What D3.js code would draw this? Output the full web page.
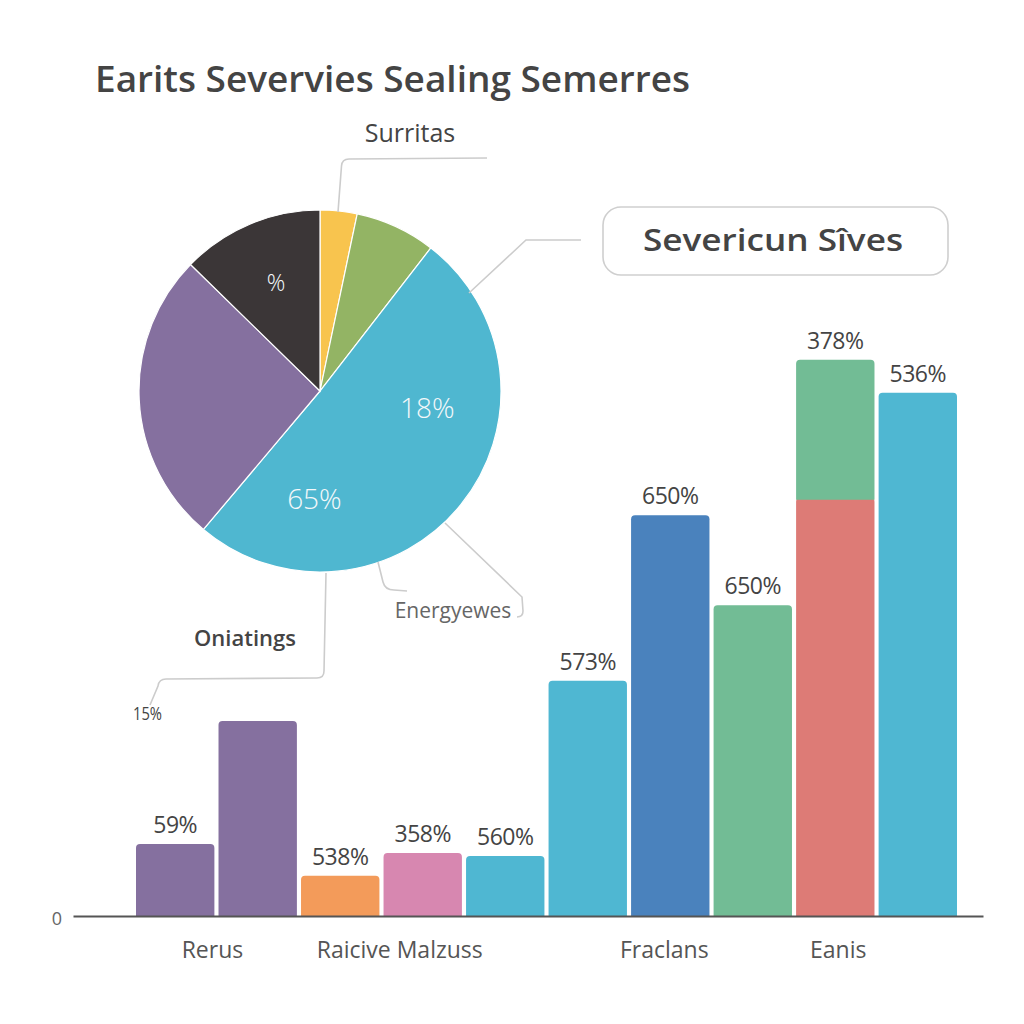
<!DOCTYPE html>
<html>
<head>
<meta charset="utf-8">
<script src="https://cdn.jsdelivr.net/npm/d3@7/dist/d3.min.js"></script>
<style>
  html, body { margin: 0; padding: 0; background: #ffffff; }
  svg { display: block; }
  text { font-family: "Open Sans", "Noto Sans", sans-serif; }
</style>
</head>
<body>
<svg id="chart" width="1024" height="1024"></svg>
<script>
// ---------------- DATA ----------------
const titleText = "Earits Severvies Sealing Semerres";
const boxTitle = "Severicun Sîves";

// Pie (clockwise from 12 o'clock)
const pieNames  = ["Yellow", "Green", "Blue", "Purple", "Dark"];
const pieValues = [3.3, 7.2, 50.7, 26.2, 12.7];
const pieColors = ["#f8c44e", "#93b464", "#4fb7d0", "#85709f", "#3b3637"];
const pieLabelTexts = ["%", "18%", "65%"];
const pieLabelAngles = [338, 98.5, 183];     // degrees clockwise from top
const pieLabelRadii  = [0.65, 0.60, 0.59];   // fraction of radius
const pieLabelSizes  = [23, 28, 28];

const calloutTexts = ["Surritas", "Energyewes", "Oniatings", "15%"];

// Bars
const barIds    = ["b1","b2","b3","b4","b5","b6","b7","b8","b9","b10"];
const barValues = [12, 32.5, 6.7, 10.5, 10, 39.2, 66.8, 51.8, 69.7, 87.2];
const barStack  = [0, 0, 0, 0, 0, 0, 0, 0, 23, 0];
const barColors = ["#85709f","#85709f","#f39b5a","#d787b0","#4fb7d2","#4fb7d2","#4a82bd","#72bc95","#dd7b76","#4fb7d2"];
const stackColor = "#72bc95";
const barLabels = ["59%", "", "538%", "358%", "560%", "573%", "650%", "650%", "378%", "536%"];
const groupLabels = ["Rerus", "Raicive Malzuss", "Fraclans", "Eanis"];
const groupSpans  = [["b1","b2"], ["b3","b5"], ["b6","b8"], ["b9","b9"]];
const yTickLabel = "0";

// ---------------- CHART ----------------
const svg = d3.select("#chart");

// Title
svg.append("text")
  .attr("x", 95).attr("y", 92)
  .attr("font-size", 36).attr("font-weight", 600)
  .attr("fill", "#444")
  .attr("textLength", 595).attr("lengthAdjust", "spacingAndGlyphs")
  .text(titleText);

// ---- Pie ----
const cx = 320, cy = 391, R = 181;
const pieGen = d3.pie().sort(null).value(d => d);
const arcGen = d3.arc().innerRadius(0).outerRadius(R);
const pieG = svg.append("g").attr("transform", `translate(${cx},${cy})`);
pieG.selectAll("path.slice")
  .data(pieGen(pieValues))
  .join("path")
  .attr("class", "slice")
  .attr("d", arcGen)
  .attr("fill", (d, i) => pieColors[i])
  .attr("stroke", "#ffffff")
  .attr("stroke-width", 1.2);

pieG.selectAll("text.pl")
  .data(pieLabelTexts)
  .join("text")
  .attr("class", "pl")
  .attr("x", (d, i) => Math.sin(pieLabelAngles[i] * Math.PI / 180) * R * pieLabelRadii[i])
  .attr("y", (d, i) => -Math.cos(pieLabelAngles[i] * Math.PI / 180) * R * pieLabelRadii[i])
  .attr("text-anchor", "middle")
  .attr("dominant-baseline", "central")
  .attr("font-size", (d, i) => pieLabelSizes[i])
  .attr("font-weight", 300)
  .attr("fill", "#f4f8fa")
  .text(d => d);

// Leader lines
const lineG = svg.append("g").attr("fill", "none").attr("stroke", "#cccccc").attr("stroke-width", 1.6);
lineG.append("path").attr("d", "M338,212 L341.5,166 Q342,159 349,159 L487,158");
lineG.append("path").attr("d", "M469,293 L526,240 L581,240");
lineG.append("path").attr("d", "M326,573 L324,671 Q324,678 317,678 L166,679 Q159,679 158,686 L150,705");
lineG.append("path").attr("d", "M378,562 L383,582 Q385,590 394,590 L407,591");
lineG.append("path").attr("d", "M445,523 L522,597 L523,611 Q523,617 517,617");

// Callout texts
svg.append("text").attr("x", 410).attr("y", 142).attr("text-anchor", "middle")
  .attr("font-size", 25).attr("fill", "#444").text(calloutTexts[0]);
svg.append("text").attr("x", 453).attr("y", 618).attr("text-anchor", "middle")
  .attr("font-size", 21).attr("fill", "#666").text(calloutTexts[1]);
svg.append("text").attr("x", 245).attr("y", 646).attr("text-anchor", "middle")
  .attr("font-size", 22).attr("font-weight", 600).attr("fill", "#444").text(calloutTexts[2]);
svg.append("text").attr("x", 133).attr("y", 720)
  .attr("font-size", 19).attr("fill", "#444")
  .attr("textLength", 29).attr("lengthAdjust", "spacingAndGlyphs")
  .text(calloutTexts[3]);

// Box
svg.append("rect").attr("x", 603).attr("y", 207).attr("width", 345).attr("height", 68)
  .attr("rx", 18).attr("fill", "#fff").attr("stroke", "#cfcfcf").attr("stroke-width", 1.6);
svg.append("text").attr("x", 773).attr("y", 251).attr("text-anchor", "middle")
  .attr("font-size", 31).attr("font-weight", 600).attr("fill", "#444")
  .attr("textLength", 260).attr("lengthAdjust", "spacingAndGlyphs")
  .text(boxTitle);

// ---- Bars ----
const x = d3.scaleBand().domain(barIds).range([136, 957]).paddingInner(0.05).paddingOuter(0);
const y = d3.scaleLinear().domain([0, 100]).range([916, 316]);

function topRounded(x0, y0, w, h, r) {
  r = Math.min(r, h, w / 2);
  return `M${x0},${y0 + h} L${x0},${y0 + r} Q${x0},${y0} ${x0 + r},${y0} L${x0 + w - r},${y0} Q${x0 + w},${y0} ${x0 + w},${y0 + r} L${x0 + w},${y0 + h} Z`;
}

const barG = svg.append("g");
barG.selectAll("path.bar")
  .data(barIds)
  .join("path")
  .attr("class", "bar")
  .attr("d", (d, i) => topRounded(x(d), y(barValues[i]), x.bandwidth(), y(0) - y(barValues[i]), 4))
  .attr("fill", (d, i) => barColors[i]);

barG.selectAll("path.stack")
  .data(barIds.filter((d, i) => barStack[i] > 0))
  .join("path")
  .attr("class", "stack")
  .attr("d", d => {
    const i = barIds.indexOf(d);
    const top = y(barValues[i] + barStack[i]);
    return topRounded(x(d), top, x.bandwidth(), y(barValues[i]) - top + 2, 4);
  })
  .attr("fill", stackColor);

barG.selectAll("text.bl")
  .data(barIds)
  .join("text")
  .attr("class", "bl")
  .attr("x", d => x(d) + x.bandwidth() / 2)
  .attr("y", (d, i) => y(barValues[i] + barStack[i]) - 11)
  .attr("text-anchor", "middle")
  .attr("font-size", 23)
  .attr("letter-spacing", -0.5)
  .attr("fill", "#444")
  .text((d, i) => barLabels[i]);

// Axis baseline
const axis = d3.axisBottom(d3.scaleLinear().range([73, 983])).ticks(0).tickSize(0).tickFormat("");
const axG = svg.append("g").attr("transform", `translate(0,${y(0)})`).call(axis);
axG.select(".domain").attr("stroke", "#555").attr("stroke-width", 2);

svg.append("text").attr("x", 57).attr("y", y(0) + 9).attr("text-anchor", "middle")
  .attr("font-size", 18).attr("fill", "#666").text(yTickLabel);

// Group labels (nudged to match the picture)
const groupNudge = [-4, -23, -6, 3];
svg.selectAll("text.gl")
  .data(groupLabels)
  .join("text")
  .attr("class", "gl")
  .attr("x", (d, i) => (x(groupSpans[i][0]) + x(groupSpans[i][1]) + x.bandwidth()) / 2 + groupNudge[i])
  .attr("y", 958)
  .attr("text-anchor", "middle")
  .attr("font-size", 23)
  .attr("fill", "#555")
  .text(d => d);
</script>
</body>
</html>
